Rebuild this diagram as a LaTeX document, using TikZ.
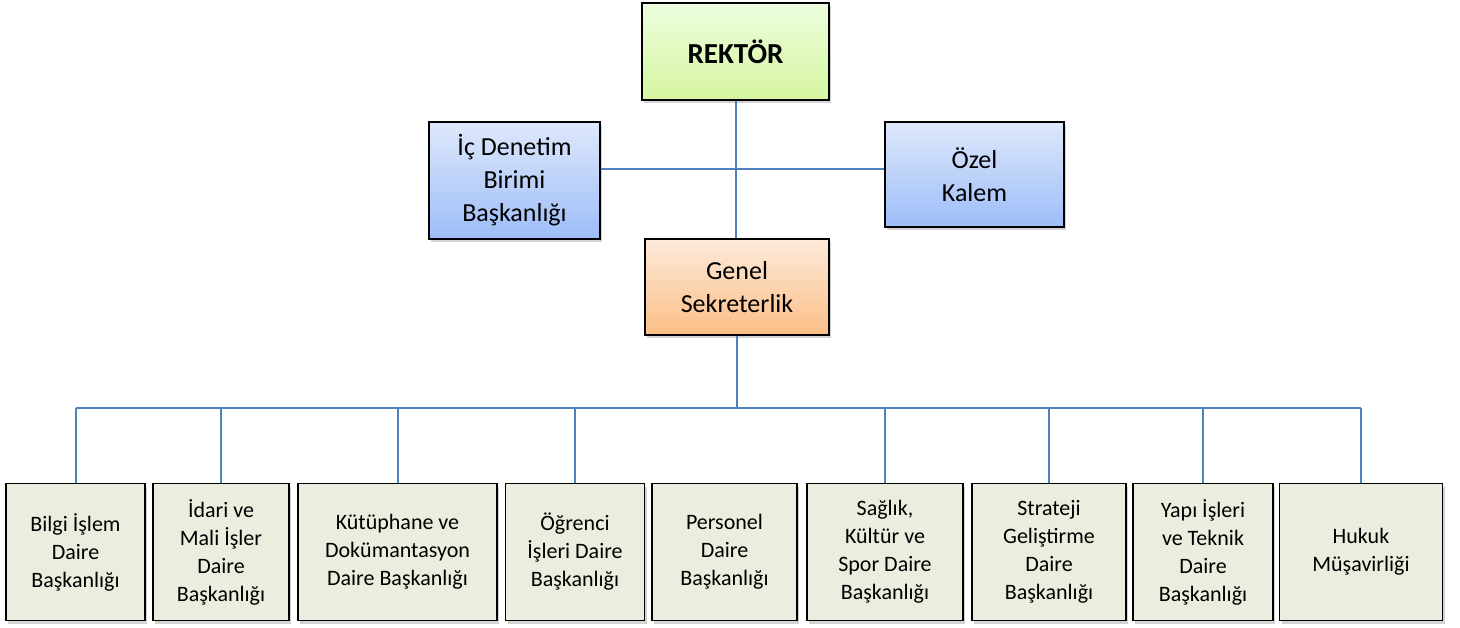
\documentclass[tikz,border=0pt]{standalone}
\usepackage{fontspec}
\setmainfont{Carlito}
\usetikzlibrary{shadows}
\definecolor{linec}{HTML}{4F81BD}
\definecolor{olivebg}{HTML}{EBEDDE}
\tikzset{
  box/.style={draw=black, line width=1.8pt, align=center, inner sep=2pt,
    drop shadow={opacity=0.35, shadow xshift=2pt, shadow yshift=-3pt}},
  rekbox/.style={box, top color=green!8!white!95!yellow, bottom color={rgb,255:red,214;green,245;blue,160}},
  bluebox/.style={box, top color={rgb,255:red,222;green,232;blue,251}, bottom color={rgb,255:red,157;green,189;blue,248},
    font=\fontsize{26}{33}\selectfont},
  orbox/.style={box, top color={rgb,255:red,253;green,234;blue,218}, bottom color={rgb,255:red,251;green,190;blue,134},
    font=\fontsize{26}{33}\selectfont},
  unitbox/.style={box, fill=olivebg, font=\fontsize{22}{28}\selectfont},
  conn/.style={draw=linec, line width=2pt}
}
\begin{document}
\begin{tikzpicture}[x=1pt,y=-1pt]
\useasboundingbox (0,0) rectangle (1460,628);
% top
\node[rekbox, minimum width=187pt, minimum height=97pt, font=\fontsize{29}{34}\selectfont\bfseries] (rek) at (735.5,51.5) {REKTÖR};
\node[bluebox, minimum width=171pt, minimum height=117pt] (ic) at (514.5,180.5) {İç Denetim\\Birimi\\Başkanlığı};
\node[bluebox, minimum width=179pt, minimum height=105pt] (ozel) at (974.5,174.5) {Özel\\Kalem};
\node[orbox, minimum width=184pt, minimum height=96pt] (gen) at (737,287) {Genel\\Sekreterlik};
% bottom units
\tikzset{ub/.style={unitbox, minimum height=137pt}}
\node[ub, minimum width=139pt] (b1) at (75.5,552) {Bilgi İşlem\\Daire\\Başkanlığı};
\node[ub, minimum width=136pt] (b2) at (221,552) {İdari ve\\Mali İşler\\Daire\\Başkanlığı};
\node[ub, minimum width=199pt] (b3) at (397.5,552) {Kütüphane ve\\Dokümantasyon\\Daire Başkanlığı};
\node[ub, minimum width=139pt] (b4) at (575,552) {Öğrenci\\İşleri Daire\\Başkanlığı};
\node[ub, minimum width=145pt] (b5) at (724.5,552) {Personel\\Daire\\Başkanlığı};
\node[ub, minimum width=156pt] (b6) at (885,552) {Sağlık,\\Kültür ve\\Spor Daire\\Başkanlığı};
\node[ub, minimum width=154pt] (b7) at (1049,552) {Strateji\\Geliştirme\\Daire\\Başkanlığı};
\node[ub, minimum width=140pt] (b8) at (1203,552) {Yapı İşleri\\ve Teknik\\Daire\\Başkanlığı};
\node[ub, minimum width=163pt] (b9) at (1361,552) {Hukuk\\Müşavirliği};
% connectors
\coordinate (h1) at (736,169);
\coordinate (bus) at (737,408);
\begin{scope}[on background layer/.style={}]
\draw[conn] (rek.south) -- (rek.south |- gen.north);
\draw[conn] (h1 -| ic.east) -- (h1 -| ozel.west);
\draw[conn] (gen.south) -- (gen.south |- bus);
\draw[conn] (bus -| b1.north) -- (bus -| b9.north);
\foreach \b in {b1,b2,b3,b4,b6,b7,b8,b9}{
  \draw[conn] (bus -| \b.north) -- (\b.north);
}
\end{scope}
\end{tikzpicture}
\end{document}
